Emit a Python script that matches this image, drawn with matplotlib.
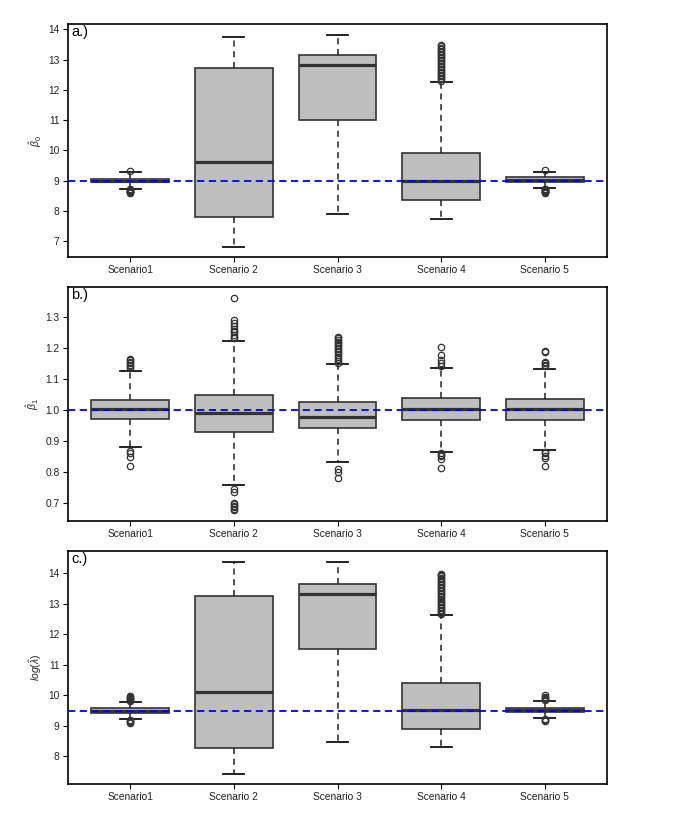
import matplotlib
matplotlib.use("Agg")
import matplotlib.pyplot as plt

scenarios = ["Scenario1", "Scenario 2", "Scenario 3", "Scenario 4", "Scenario 5"]

# Panel a: beta0 hat
a_q1 = [8.945, 7.78, 11.00, 8.36, 8.965]
a_med = [9.00, 9.60, 12.83, 9.00, 9.03]
a_q3 = [9.06, 12.74, 13.16, 9.92, 9.11]
a_lo = [8.73, 6.80, 7.90, 7.73, 8.75]
a_hi = [9.27, 13.76, 13.83, 12.26, 9.29]
a_out = [
    [9.30, 8.71, 8.69, 8.67, 8.65, 8.63, 8.61, 8.59],
    [],
    [],
    [12.30, 12.35, 12.40, 12.45, 12.50, 12.55, 12.60, 12.65, 12.70, 12.75,
     12.80, 12.85, 12.90, 12.95, 13.00, 13.05, 13.10, 13.15, 13.20, 13.25,
     13.30, 13.35, 13.40, 13.45, 13.48],
    [9.35, 8.73, 8.71, 8.69, 8.67, 8.65, 8.63, 8.61, 8.59],
]
a_ref = 9.0

# Panel b: beta1 hat
b_q1 = [0.969, 0.928, 0.941, 0.966, 0.968]
b_med = [1.002, 0.988, 0.977, 1.002, 1.001]
b_q3 = [1.033, 1.046, 1.024, 1.037, 1.035]
b_lo = [0.880, 0.758, 0.830, 0.865, 0.871]
b_hi = [1.126, 1.222, 1.147, 1.134, 1.131]
b_out = [
    [1.135, 1.14, 1.145, 1.15, 1.155, 1.16, 1.165, 0.868, 0.862, 0.848, 0.819],
    [1.23, 1.235, 1.24, 1.25, 1.255, 1.26, 1.27, 1.28, 1.29, 1.36,
     0.745, 0.735, 0.70, 0.695, 0.69, 0.685, 0.68, 0.675],
    [1.152, 1.158, 1.165, 1.17, 1.178, 1.185, 1.19, 1.195, 1.2, 1.205,
     1.21, 1.215, 1.22, 1.225, 1.23, 1.235, 0.81, 0.80, 0.78],
    [1.14, 1.15, 1.16, 1.175, 1.201, 0.86, 0.855, 0.85, 0.84, 0.813],
    [1.14, 1.145, 1.15, 1.155, 1.185, 1.19, 0.865, 0.86, 0.85, 0.845, 0.82],
]
b_ref = 1.0

# Panel c: log(lambda hat)
c_q1 = [9.43, 8.28, 11.52, 8.90, 9.46]
c_med = [9.50, 10.12, 13.31, 9.53, 9.52]
c_q3 = [9.57, 13.25, 13.64, 10.41, 9.60]
c_lo = [9.23, 7.42, 8.48, 8.32, 9.27]
c_hi = [9.79, 14.37, 14.37, 12.63, 9.82]
c_out = [
    [9.82, 9.85, 9.88, 9.91, 9.94, 9.97, 9.20, 9.17, 9.14, 9.11],
    [],
    [],
    [12.66, 12.70, 12.75, 12.80, 12.85, 12.90, 12.95, 13.00, 13.05, 13.10,
     13.15, 13.20, 13.25, 13.30, 13.35, 13.40, 13.45, 13.50, 13.55, 13.60,
     13.65, 13.70, 13.75, 13.80, 13.85, 13.90, 13.95, 13.98],
    [9.85, 9.88, 9.92, 9.96, 10.00, 9.24, 9.20, 9.17],
]
c_ref = 9.5

panels = [
    dict(q1=a_q1, med=a_med, q3=a_q3, lo=a_lo, hi=a_hi, out=a_out, ref=a_ref,
         ylim=(6.47, 14.18), ticks=[7, 8, 9, 10, 11, 12, 13, 14],
         fmt="{:.0f}", label="a.)", ylabel=r"$\hat{\beta}_0$"),
    dict(q1=b_q1, med=b_med, q3=b_q3, lo=b_lo, hi=b_hi, out=b_out, ref=b_ref,
         ylim=(0.641, 1.396), ticks=[0.7, 0.8, 0.9, 1.0, 1.1, 1.2, 1.3],
         fmt="{:.1f}", label="b.)", ylabel=r"$\hat{\beta}_1$"),
    dict(q1=c_q1, med=c_med, q3=c_q3, lo=c_lo, hi=c_hi, out=c_out, ref=c_ref,
         ylim=(7.10, 14.72), ticks=[8, 9, 10, 11, 12, 13, 14],
         fmt="{:.0f}", label="c.)", ylabel=r"$\mathit{log}(\hat{\lambda})$"),
]

plt.rcParams['font.family'] = ['Liberation Sans', 'DejaVu Sans']
plt.rcParams['mathtext.fontset'] = 'custom'
plt.rcParams['mathtext.rm'] = 'Liberation Sans'
plt.rcParams['mathtext.it'] = 'Liberation Sans:italic'

fig = plt.figure(figsize=(6.92, 8.26), dpi=100)
rects = [
    [68 / 692, 1 - 257 / 826, 539 / 692, 233 / 826],
    [68 / 692, 1 - 521 / 826, 539 / 692, 234 / 826],
    [68 / 692, 1 - 784 / 826, 539 / 692, 233 / 826],
]

edge = "#333333"
for rect, p in zip(rects, panels):
    ax = fig.add_axes(rect)
    stats = []
    for i in range(len(scenarios)):
        stats.append(dict(med=p["med"][i], q1=p["q1"][i], q3=p["q3"][i],
                          whislo=p["lo"][i], whishi=p["hi"][i],
                          fliers=p["out"][i], label=scenarios[i]))
    ax.bxp(stats, positions=range(1, 6), widths=0.75, capwidths=0.2,
           patch_artist=True,
           boxprops=dict(facecolor="#BEBEBE", edgecolor=edge, linewidth=1.2),
           medianprops=dict(color=edge, linewidth=2.3, solid_capstyle="butt"),
           whiskerprops=dict(color="#222222", linewidth=1.1, linestyle=(0, (4, 3))),
           capprops=dict(color="#111111", linewidth=1.3),
           flierprops=dict(marker="o", markerfacecolor="none",
                           markeredgecolor=edge, markersize=4.6,
                           markeredgewidth=0.9, linestyle="none"),
           zorder=2)
    ax.axhline(p["ref"], color="#0000FF", linewidth=1.3,
               linestyle=(0, (4, 2.5)), zorder=5)
    ax.set_xlim(0.4, 5.6)
    ax.set_ylim(*p["ylim"])
    ax.set_yticks(p["ticks"])
    ax.set_yticklabels([p["fmt"].format(t) for t in p["ticks"]])
    ax.set_xticks(range(1, 6))
    ax.set_xticklabels(scenarios)
    ax.tick_params(axis="both", direction="out", length=3.5, width=0.8,
                   colors="#000000", labelsize=7.4, labelcolor="#222222", pad=2.5)
    for s in ax.spines.values():
        s.set_linewidth(1.2)
        s.set_color("#000000")
    ax.text(0.006, 0.995, p["label"], transform=ax.transAxes, ha="left", va="top",
            fontsize=10.5, color="#000000")
    ax.set_ylabel(p["ylabel"], fontsize=7.5, color="#222222", labelpad=3)

fig.savefig("out.png", dpi=100, facecolor="white")
